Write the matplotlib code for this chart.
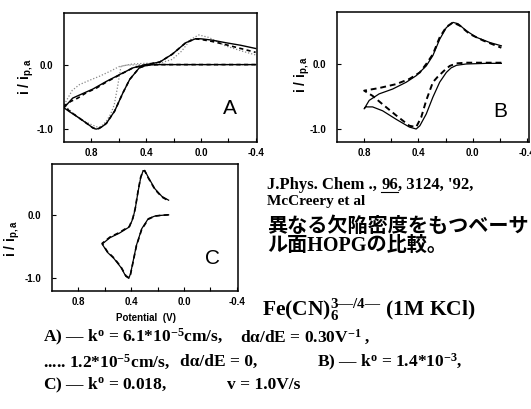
import matplotlib
matplotlib.use("Agg")
import matplotlib.pyplot as plt
from matplotlib.lines import Line2D

# ---------------------------------------------------------------
# data (E in V, i / i_p,a)
# each curve: start at the negative end, go to the switch, come back
# ---------------------------------------------------------------
a_solid_E = [-0.40, -0.20, 0.00, 0.20, 0.30, 0.375, 0.41, 0.45, 0.52, 0.57, 0.63, 0.69, 0.72,
             0.745, 0.766, 0.79, 0.815, 0.888, 0.96, 1.00,
             0.937, 0.864, 0.79, 0.69, 0.594, 0.496, 0.40, 0.30, 0.21, 0.11, 0.04, 0.00,
             -0.08, -0.18, -0.29, -0.40]
a_solid_i = [0.0, 0.0, 0.0, 0.0, 0.0, -0.005, -0.02, -0.05, -0.23, -0.44, -0.72, -0.91, -0.96,
             -0.99, -1.0, -0.98, -0.94, -0.83, -0.73, -0.67,
             -0.52, -0.45, -0.38, -0.26, -0.155, -0.05, 0.0, 0.04, 0.16, 0.34, 0.40, 0.40,
             0.38, 0.34, 0.30, 0.25]

a_dash_E = [-0.40, -0.20, 0.00, 0.20, 0.30, 0.375, 0.41, 0.45, 0.52, 0.57, 0.63, 0.69, 0.72,
            0.745, 0.766, 0.79, 0.815, 0.888, 0.96, 1.00,
            0.95, 0.90, 0.84, 0.76, 0.69, 0.594, 0.496, 0.40, 0.30, 0.21, 0.11, 0.04, 0.00,
            -0.08, -0.18, -0.29, -0.40]
a_dash_i = [0.0, 0.0, 0.0, 0.0, 0.0, -0.005, -0.02, -0.05, -0.23, -0.44, -0.72, -0.91, -0.96,
            -0.99, -1.0, -0.98, -0.94, -0.83, -0.72, -0.64,
            -0.57, -0.52, -0.44, -0.36, -0.27, -0.16, -0.05, 0.0, 0.04, 0.16, 0.34, 0.40, 0.39,
            0.36, 0.31, 0.25, 0.19]

a_dot_E = [-0.40, -0.20, 0.00, 0.20, 0.40, 0.50, 0.55, 0.584, 0.61, 0.633, 0.66, 0.693, 0.73,
           0.76, 0.79, 0.84, 0.887, 0.94, 1.00,
           0.94, 0.887, 0.81, 0.74, 0.66, 0.596, 0.50, 0.40, 0.305, 0.21, 0.14, 0.075, 0.015,
           -0.06, -0.18, -0.30, -0.40]
a_dot_i = [0.0, 0.0, 0.0, 0.0, 0.0, -0.005, -0.01, -0.03, -0.36, -0.625, -0.77, -0.885, -0.96,
           -0.965, -0.94, -0.89, -0.83, -0.74, -0.625,
           -0.40, -0.31, -0.24, -0.18, -0.10, -0.03, 0.01, 0.02, 0.02, 0.08, 0.21, 0.39, 0.46,
           0.42, 0.29, 0.21, 0.15]

b_solid_E = [-0.21, -0.10, 0.05, 0.12, 0.16, 0.195, 0.244, 0.294, 0.343, 0.39, 0.417, 0.467,
             0.565, 0.664, 0.738, 0.788, 0.80,
             0.763, 0.69, 0.59, 0.49, 0.417, 0.343, 0.294, 0.244, 0.195, 0.146, 0.109,
             0.047, -0.027, -0.126, -0.21]
b_solid_i = [0.01, 0.01, 0.0, -0.02, -0.06, -0.13, -0.28, -0.51, -0.77, -0.95, -1.0, -0.97,
             -0.85, -0.72, -0.66, -0.66, -0.69,
             -0.56, -0.46, -0.385, -0.28, -0.18, -0.03, 0.13, 0.38, 0.56, 0.64, 0.62,
             0.51, 0.41, 0.33, 0.28]

b_dash_E = [-0.21, -0.10, 0.05, 0.12, 0.17, 0.21, 0.26, 0.294, 0.343, 0.38, 0.417, 0.467,
            0.565, 0.664, 0.738, 0.80,
            0.69, 0.565, 0.467, 0.39, 0.343, 0.294, 0.244, 0.195, 0.146, 0.096, 0.022,
            -0.077, -0.21]
b_dash_i = [0.02, 0.02, 0.02, 0.01, -0.03, -0.10, -0.20, -0.28, -0.56, -0.82, -0.97, -0.95,
            -0.79, -0.62, -0.49, -0.41,
            -0.37, -0.31, -0.23, -0.13, 0.0, 0.15, 0.41, 0.57, 0.64, 0.59, 0.46,
            0.36, 0.25]

c_solid_E = [0.116, 0.18, 0.22, 0.27, 0.32, 0.36, 0.387, 0.405, 0.418, 0.44, 0.477, 0.53,
             0.58, 0.62,
             0.56, 0.49, 0.413, 0.387, 0.369, 0.348, 0.328, 0.31, 0.297, 0.27, 0.22, 0.167,
             0.116]
c_solid_i = [0.0, -0.01, -0.02, -0.06, -0.22, -0.48, -0.75, -0.93, -1.0, -0.97, -0.83, -0.69,
             -0.59, -0.46,
             -0.36, -0.29, -0.19, -0.06, 0.095, 0.36, 0.58, 0.69, 0.70, 0.59, 0.41, 0.29,
             0.23]

c_dash_E = [0.116, 0.18, 0.22, 0.27, 0.32, 0.36, 0.387, 0.405, 0.418, 0.44, 0.477, 0.53,
            0.58, 0.62,
            0.56, 0.49, 0.413, 0.387, 0.369, 0.348, 0.328, 0.31, 0.297, 0.27, 0.22, 0.167,
            0.116]
c_dash_i = [0.0, -0.01, -0.02, -0.07, -0.23, -0.49, -0.76, -0.94, -0.99, -0.96, -0.82, -0.68,
            -0.58, -0.45,
            -0.35, -0.28, -0.18, -0.05, 0.10, 0.37, 0.59, 0.69, 0.69, 0.58, 0.40, 0.28,
            0.22]

x_major = [0.8, 0.4, 0.0, -0.4]
x_minor = [0.6, 0.2, -0.2]
x_labels = ["0.8", "0.4", "0.0", "-0.4"]
y_major = [0.0, -1.0]
y_labels = ["0.0", "-1.0"]

W, H = 531, 409

plt.rcParams["mathtext.fontset"] = "custom"
plt.rcParams["mathtext.rm"] = "Liberation Serif:bold"
plt.rcParams["mathtext.it"] = "Liberation Serif:bold"
plt.rcParams["mathtext.bf"] = "Liberation Serif:bold"
plt.rcParams["mathtext.sf"] = "Liberation Sans:bold"
plt.rcParams["axes.unicode_minus"] = False


def fx(x):
    return x / W


def fy(y):
    return 1 - y / H


def make_panel(fig, left, top, right, bottom, letter, letter_xy):
    ax = fig.add_axes([fx(left), fy(bottom), (right - left) / W, (bottom - top) / H])
    ax.set_xlim(1.0, -0.41)
    ax.set_ylim(-1.2, 0.8)
    ax.set_xticks(x_major)
    ax.set_xticklabels(x_labels)
    ax.set_xticks(x_minor, minor=True)
    ax.set_yticks(y_major)
    ax.set_yticklabels(y_labels)
    ax.tick_params(which="both", direction="in", length=3, width=0.8)
    ax.tick_params(axis="x", pad=4)
    ax.tick_params(axis="y", pad=8)
    for lab in ax.get_xticklabels() + ax.get_yticklabels():
        lab.set_fontfamily("Liberation Sans")
        lab.set_fontweight("bold")
        lab.set_fontsize(7)
    for sp in ax.spines.values():
        sp.set_linewidth(1.1)
    fig.text(fx(letter_xy[0]), fy(letter_xy[1]), letter, ha="center", va="center",
             fontsize=15, family="Liberation Sans")
    return ax


fig = plt.figure(figsize=(W / 100, H / 100), dpi=100)

# panel A
ax_a = make_panel(fig, 64, 13, 257, 142, "A", (230, 108))
ax_a.plot(a_dot_E, a_dot_i, color="#888888", lw=0.9, ls=(0, (1, 1.5)))
ax_a.plot(a_dash_E, a_dash_i, color="black", lw=1.2, ls=(0, (2.5, 2)))
ax_a.plot(a_solid_E, a_solid_i, color="black", lw=1.0)

# panel B
ax_b = make_panel(fig, 337, 12, 528.5, 142, "B", (500, 112))
ax_b.plot(b_dash_E, b_dash_i, color="black", lw=1.4, ls=(0, (3, 2)))
ax_b.plot(b_solid_E, b_solid_i, color="black", lw=0.9)

# panel C
ax_c = make_panel(fig, 52, 164, 238, 291, "C", (212, 258))
ax_c.plot(c_dash_E, c_dash_i, color="black", lw=1.2, ls=(0, (3, 2)))
ax_c.plot(c_solid_E, c_solid_i, color="black", lw=0.9)

ylab = r"i / i$_{\mathsf{p,a}}$"
for (x, y) in [(27, 76), (302, 74), (13, 238)]:
    fig.text(fx(x), fy(y), ylab, rotation=90, ha="center", va="center",
             fontsize=10, family="Liberation Sans", fontweight="bold")
fig.text(fx(146), fy(318), "Potential  (V)", ha="center", va="center",
         fontsize=7, family="Liberation Sans", fontweight="bold")

# reference and description
serif = dict(family=["Liberation Serif", "Noto Sans CJK JP"], fontweight="bold")
ref_head = fig.text(fx(267), fy(185), "J.Phys. Chem ., ", va="center", fontsize=12, **serif)
fig.canvas.draw()
r = fig.canvas.get_renderer()
bb = ref_head.get_window_extent(r)
vol = fig.text(bb.x1 / W, fy(185), "96", va="center", fontsize=12, **serif)
bb2 = vol.get_window_extent(r)
fig.text(bb2.x1 / W, fy(185), ", 3124, '92,", va="center", fontsize=12, **serif)
fig.add_artist(Line2D([bb2.x0 / W, bb2.x1 / W], [fy(192), fy(192)], color="black", lw=0.8))
fig.text(fx(267), fy(202), "McCreery et al", va="center", fontsize=11, **serif)
fig.text(fx(267), fy(225), "異なる欠陥密度をもつベーサ", va="center", fontsize=14.5,
         family="Noto Sans CJK JP", fontweight="bold")
fig.text(fx(267), fy(246), "ル面HOPGの比較。", va="center", fontsize=14.5, **serif)
fig.text(fx(262), fy(310), "Fe(CN)$_6^{3\u2014/4\u2014}$ (1M KCl)", va="center",
         fontsize=15.5, **serif)

fs = 12.5
fig.text(fx(43), fy(337), "A) \u2014 k$^{o}$ = 6.1*10$^{-5}$cm/s,", va="center",
         fontsize=fs, **serif)
fig.text(fx(240), fy(337), "d\u03b1/dE = 0.30V$^{-1}$ ,", va="center", fontsize=fs, **serif)
fig.text(fx(43), fy(362), "..... 1.2*10$^{-5}$cm/s,", va="center", fontsize=fs, **serif)
fig.text(fx(180), fy(362), "d\u03b1/dE = 0,", va="center", fontsize=fs, **serif)
fig.text(fx(317), fy(362), "B) \u2014 k$^{o}$ = 1.4*10$^{-3}$,", va="center",
         fontsize=fs, **serif)
fig.text(fx(43), fy(385), "C) \u2014 k$^{o}$ = 0.018,", va="center", fontsize=fs, **serif)
fig.text(fx(227), fy(385), "v = 1.0V/s", va="center", fontsize=fs, **serif)

fig.savefig("out.png", dpi=100)
